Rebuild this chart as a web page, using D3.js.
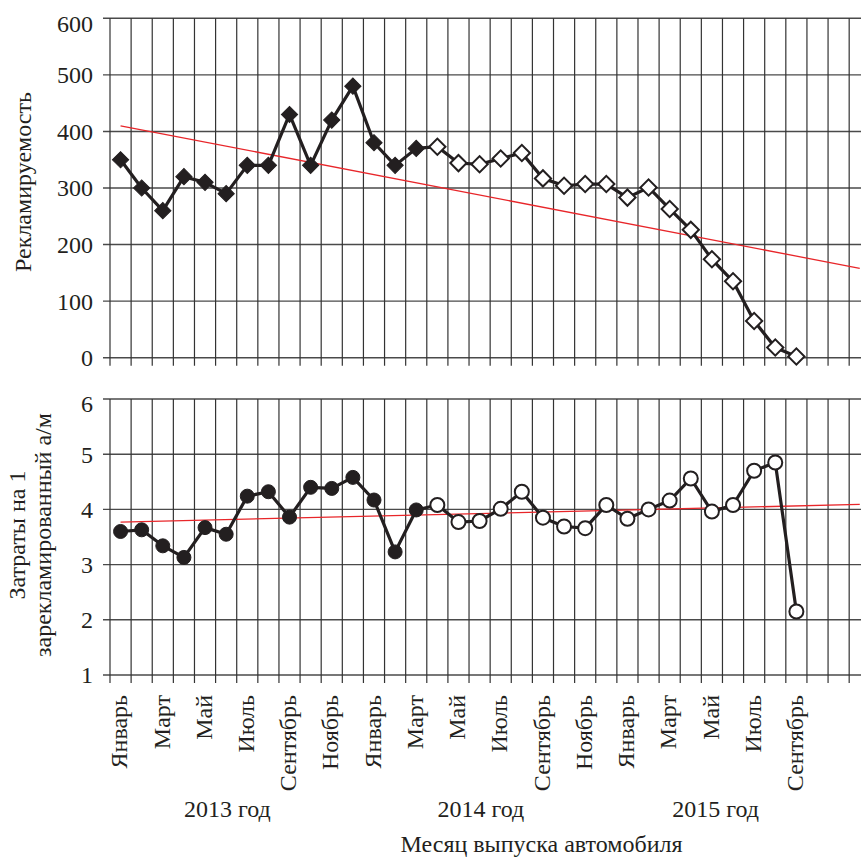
<!DOCTYPE html>
<html><head><meta charset="utf-8">
<script src="https://cdn.jsdelivr.net/npm/d3@7/dist/d3.min.js"></script>
<style>
html,body{margin:0;padding:0;background:#fff;}
svg{display:block;font-family:"Liberation Serif","Times New Roman",serif;}
</style></head>
<body>
<svg id="chart" width="861" height="861"></svg>
<script>
// ---- data ----
const monthNames = ["Январь","Февраль","Март","Апрель","Май","Июнь","Июль","Август","Сентябрь","Октябрь","Ноябрь","Декабрь"];
const years = ["2013 год","2014 год","2015 год"];
// Рекламируемость, Jan 2013 .. Sep 2015 (33 months)
const advertised = [350,300,260,320,310,290,340,340,430,340,420,480,380,340,370,
                    373,344,342,352,362,317,304,307,307,283,301,263,226,174,135,65,18,2];
// Затраты на 1 зарекламированный а/м
const cost = [3.60,3.63,3.34,3.13,3.67,3.55,4.24,4.32,3.86,4.40,4.38,4.58,4.17,3.23,3.99,
              4.08,3.77,3.79,4.01,4.32,3.85,3.69,3.66,4.08,3.83,4.00,4.16,4.56,3.96,4.08,4.70,4.85,2.15];
const filledCount = 15; // points Jan 2013 .. Mar 2014 drawn filled
// trend lines: [value at first month, value at last month (Dec 2015)]
const trendAdvertised = [410,158];
const trendCost = [3.77,4.09];
const topTicks = [0,100,200,300,400,500,600];
const bottomTicks = [1,2,3,4,5,6];

// ---- layout ----
const svg = d3.select("#chart");
const W = 861;
const nMonths = 36;
const x = d3.scaleLinear().domain([0,nMonths]).range([110,870.3]);
const xc = i => x(i+0.5);
const yTop = d3.scaleLinear().domain([0,600]).range([357.7,18.3]);
const yBot = d3.scaleLinear().domain([1,6]).range([675,399]);
const FS = 24;
const gridCol = "#4a4a4a";

function panel(y, ticks, values, trend, markerType){
  const g = svg.append("g");
  const [y0,y1] = y.range();
  g.selectAll("line.h").data(ticks).enter().append("line")
    .attr("x1",103).attr("x2",W).attr("y1",d=>y(d)).attr("y2",d=>y(d))
    .attr("stroke",gridCol).attr("stroke-width",1.4);
  g.selectAll("line.v").data(d3.range(0,nMonths+1)).enter().append("line")
    .attr("x1",d=>x(d)).attr("x2",d=>x(d)).attr("y1",y1).attr("y2",y0+8)
    .attr("stroke","#333").attr("stroke-width",1.2);
  g.selectAll("text.t").data(ticks).enter().append("text")
    .attr("x",93).attr("y",d=>y(d)).attr("dy", (d,i)=> i===ticks.length-1 ? "0.55em":"0.35em")
    .attr("text-anchor","end").attr("font-size",FS).attr("fill","#231f20")
    .text(d=>d);
  g.append("line")
    .attr("x1",xc(0)).attr("y1",y(trend[0]))
    .attr("x2",xc(nMonths-1)).attr("y2",y(trend[1]))
    .attr("stroke","#e8262a").attr("stroke-width",1.3);
  const line = d3.line().x((d,i)=>xc(i)).y(d=>y(d));
  g.append("path").datum(values).attr("d",line)
    .attr("fill","none").attr("stroke","#231f20").attr("stroke-width",3.2)
    .attr("stroke-linejoin","round");
  const sym = d3.symbol().type(markerType==="diamond" ? d3.symbolSquare : d3.symbolCircle)
    .size(markerType==="diamond" ? 132 : 154);
  g.selectAll("path.m").data(values).enter().append("path")
    .attr("d",sym)
    .attr("transform",(d,i)=>`translate(${xc(i)},${y(d)})` + (markerType==="diamond"?" rotate(45)":""))
    .attr("fill",(d,i)=> i<filledCount ? "#231f20" : "#fff")
    .attr("stroke","#231f20").attr("stroke-width",(d,i)=> i<filledCount ? 1 : 2);
  return g;
}

panel(yTop, topTicks, advertised, trendAdvertised, "diamond");
panel(yBot, bottomTicks, cost, trendCost, "circle");

// month labels (every other month, up to the last data month)
const monthIdx = d3.range(0,advertised.length).filter(i=>i%2===0);
svg.selectAll("text.month").data(monthIdx).enter().append("text")
  .attr("class","month")
  .attr("transform",i=>`translate(${xc(i)},695) rotate(-90)`)
  .attr("dy","0.28em").attr("text-anchor","end")
  .attr("font-size",FS).attr("fill","#231f20")
  .text(i=>monthNames[i%12]);

const yearPos = [5.56,17.56,28.68];
svg.selectAll("text.year").data(years).enter().append("text")
  .attr("x",(d,i)=>x(yearPos[i])).attr("y",817)
  .attr("text-anchor","middle").attr("font-size",FS).attr("fill","#231f20")
  .text(d=>d);

svg.append("text").attr("x",541.5).attr("y",852).attr("text-anchor","middle")
  .attr("font-size",FS).attr("fill","#231f20").text("Месяц выпуска автомобиля");
svg.append("text").attr("transform",`translate(31,${(yTop(0)+yTop(600))/2 - 6}) rotate(-90)`)
  .attr("text-anchor","middle").attr("font-size",FS).attr("fill","#231f20").text("Рекламируемость");
svg.append("text").attr("transform",`translate(25,${(yBot(1)+yBot(6))/2 - 2}) rotate(-90)`)
  .attr("text-anchor","middle").attr("font-size",FS).attr("fill","#231f20").text("Затраты на 1");
svg.append("text").attr("transform",`translate(51,${(yBot(1)+yBot(6))/2 - 2}) rotate(-90)`)
  .attr("text-anchor","middle").attr("font-size",FS).attr("fill","#231f20").text("зарекламированный а/м");
</script>
</body></html>
